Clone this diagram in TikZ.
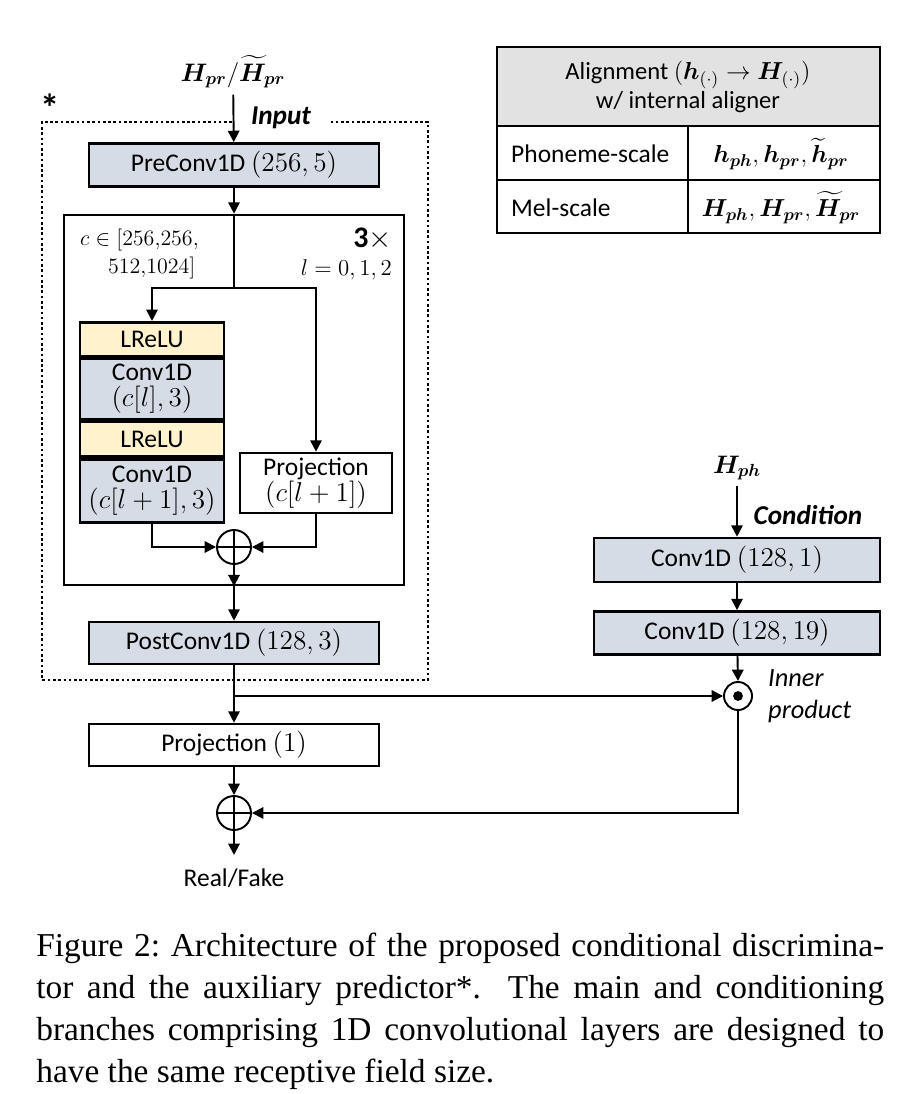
\RequirePackage{fix-cm}
\documentclass[tikz,border=0pt]{standalone}
\usepackage{amsmath}
\usepackage{bm}
\usepackage{fontspec}
\setmainfont{Carlito}
\newfontfamily\capfont{Liberation Serif}
\usetikzlibrary{positioning,arrows.meta}
\DeclareMathSizes{14.5}{15.5}{11}{8.5}

\definecolor{convblue}{HTML}{D6DCE5}
\definecolor{reluyellow}{HTML}{FFF2CC}
\definecolor{headgray}{HTML}{E2E2E2}

\tikzset{
  box/.style={draw, line width=1.5pt, inner sep=0pt, align=center, minimum width=5.8cm, minimum height=0.86cm},
  conv/.style={box, fill=convblue},
  relu/.style={box, fill=reluyellow, minimum width=2.88cm},
  opnode/.style={draw, circle, line width=1.1pt, minimum size=0.68cm, inner sep=0pt},
  arr/.style={-{Triangle[length=6.5pt,width=6.5pt]}, line width=1.1pt},
  conn/.style={line width=1.1pt},
  dotbox/.style={line width=1.5pt, dash pattern=on 1.5pt off 1.5pt},
  tab/.style={line width=1pt},
  lab/.style={font=\fontsize{15.5}{18}\selectfont\bfseries\itshape},
  sym/.style={font=\fontsize{14.4}{16}\selectfont}
}

\begin{document}
\begin{tikzpicture}[x=0.02cm, y=-0.02cm, font=\fontsize{14.5}{15}\selectfont]
\useasboundingbox (0,0) rectangle (916,1094);

% main branch
\node[sym] (hin) at (233,72) {$\bm{H}_{\bm{pr}}/\widetilde{\bm{H}}_{\bm{pr}}$};
\node[lab] (inlab) at (281,118) {Input};
\node[conv] (pre) at (234,165) {PreConv1D $(256,5)$};

\node[box, minimum width=6.8cm, minimum height=7.4cm] (blk) at (234,400) {};
\node[anchor=west, align=left, font=\fontsize{12.5}{15.5}\selectfont] (cset) at (74,254) {$c\in[256{,}256,$\\\hspace{0.56cm}$512{,}1024]$};
\node[anchor=east, align=right, font=\fontsize{13}{15.5}\selectfont] (rep) at (398,254) {{\fontsize{17}{16}\selectfont$\mathbf{3}\times$}\\$l=0,1,2$};

\coordinate (split) at (234,288);
\node[relu, minimum height=0.68cm, anchor=north] (relu1) at (152,321) {LReLU};
\node[conv, minimum width=2.88cm, minimum height=1.2cm, below=0pt of relu1] (conv1) {Conv1D\\$(c[l],3)$};
\node[relu, minimum height=0.7cm, below=0pt of conv1] (relu2) {LReLU};
\node[conv, minimum width=2.88cm, minimum height=1.26cm, below=0pt of relu2] (conv2) {Conv1D\\$(c[l+1],3)$};
\node[box, minimum width=3.04cm, minimum height=1.2cm] (proj) at (316,483) {Projection\\$(c[l+1])$};
\node[opnode] (sum1) at (234,547) {};
\draw[conn] (sum1.north) -- (sum1.south) (sum1.west) -- (sum1.east);

\node[conv, minimum height=0.84cm] (post) at (234,643) {PostConv1D $(128,3)$};
\draw[dotbox] (232,122) -| (42,680) -| (428,122) -- (330,122);
\node[font=\fontsize{22}{22}\selectfont\bfseries] (star) at (50,108) {*};

\coordinate (br) at (234,696);
\node[box, minimum height=0.84cm] (proj1) at (234,745) {Projection $(1)$};
\node[opnode] (sum2) at (234,813) {};
\draw[conn] (sum2.north) -- (sum2.south) (sum2.west) -- (sum2.east);
\coordinate (rf) at (234,855);
\node (real) at (234,878) {Real/Fake};

% condition branch
\node[sym] (hph) at (737,468) {$\bm{H}_{\bm{ph}}$};
\node[lab] (condlab) at (808,515) {Condition};
\node[conv, minimum width=5.72cm, minimum height=0.88cm] (cond1) at (737,560) {Conv1D $(128,1)$};
\node[conv, minimum width=5.72cm, minimum height=0.86cm] (cond2) at (737,633) {Conv1D $(128,19)$};
\node[opnode, minimum size=0.56cm] (inner) at (738,696) {};
\fill (inner.center) circle (2.8pt);
\node[anchor=west, align=left, font=\fontsize{15}{18}\selectfont\itshape] (innerlab) at (762,696) {Inner\\product};

% connectors
\draw[arr] (hin) -- (pre);
\draw[arr] (pre) -- (blk.north);
\draw[conn] (blk.north) -- (split);
\draw[arr] (split) -| (relu1.north);
\draw[arr] (split) -| (proj.north);
\draw[arr] (conv2.south) |- (sum1.west);
\draw[arr] (proj.south) |- (sum1.east);
\draw[arr] (sum1.south) -- (blk.south);
\draw[arr] (blk.south) -- (post.north);
\draw[arr] (post) -- (proj1);
\draw[arr] (br) -- (inner.west);
\draw[arr] (proj1) -- (sum2.north);
\draw[arr] (sum2.south) -- (rf);
\draw[arr] (hph) -- (cond1);
\draw[arr] (cond1) -- (cond2);
\draw[arr] (cond2) -- (inner.north);
\draw[arr] (inner.south) |- (sum2.east);

% alignment table
\fill[headgray] (497,47) rectangle (880,126);
\draw[tab] (497,47) rectangle (880,233);
\draw[tab] (497,126) -- (880,126) (497,180) -- (880,180) (688,126) -- (688,233);
\node[align=center, font=\fontsize{14}{16.5}\selectfont] (thead) at (688,87) {Alignment $(\bm{h}_{(\cdot)} \rightarrow \bm{H}_{(\cdot)})$\\w/ internal aligner};
\node[anchor=west] (phl) at (505,154) {Phoneme-scale};
\node[font=\fontsize{14}{16}\selectfont] (phv) at (781,154) {$\bm{h}_{\bm{ph}}, \bm{h}_{\bm{pr}}, \widetilde{\bm{h}}_{\bm{pr}}$};
\node[anchor=west] (mell) at (505,208) {Mel-scale};
\node[font=\fontsize{14}{16}\selectfont] (melv) at (781,208) {$\bm{H}_{\bm{ph}}, \bm{H}_{\bm{pr}}, \widetilde{\bm{H}}_{\bm{pr}}$};

% caption
\node[anchor=north west, text width=16.96cm, align=justify, inner sep=0pt, font=\capfont\frenchspacing\fontsize{19}{23.9}\selectfont] (cap) at (36,933) {Figure 2: Architecture of the proposed conditional discrimina-\linebreak tor and the auxiliary predictor*.\hspace{0.4em} The main and conditioning\linebreak branches comprising 1D convolutional layers are designed to\linebreak have the same receptive field size.};
\end{tikzpicture}
\end{document}
